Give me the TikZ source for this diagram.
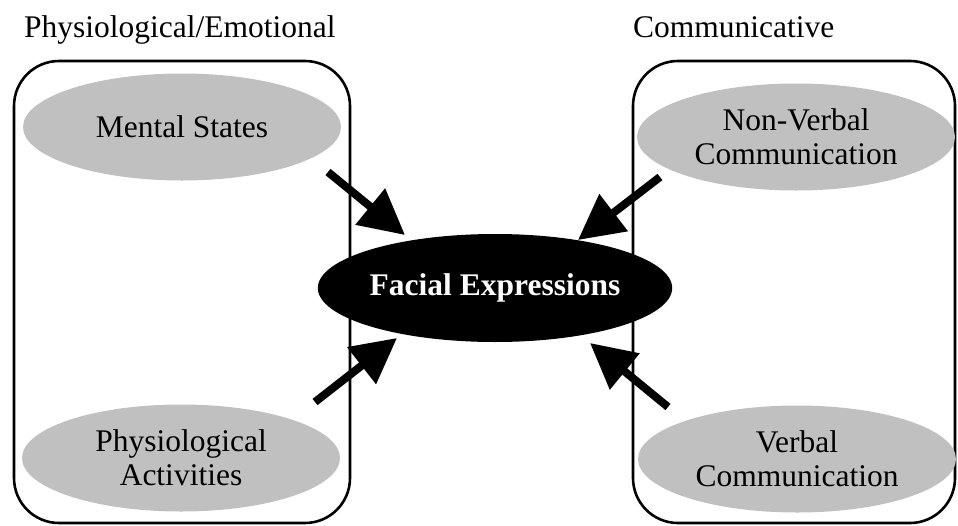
\documentclass[tikz,border=0pt]{standalone}
\usepackage{fontspec}
\setmainfont{Liberation Serif}
\usetikzlibrary{arrows.meta,shapes.geometric}
\definecolor{ellgray}{RGB}{192,192,192}
\begin{document}
\begin{tikzpicture}[x=1pt,y=-1pt,
  every node/.style={font=\fontsize{31.5}{34}\selectfont},
  groupbox/.style={draw=black,line width=2.6pt,rounded corners=45pt},
  grayell/.style={ellipse,fill=ellgray,inner sep=0pt,minimum width=318pt,minimum height=107pt,align=center},
  mainell/.style={ellipse,fill=black,text=white,inner sep=0pt,minimum width=318pt,minimum height=108pt,font=\fontsize{31.5}{34}\selectfont\bfseries},
  bigarrow/.style={line width=8pt,-{Triangle[length=45pt,width=45pt]}},
  grouptitle/.style={anchor=base west,inner sep=0pt}]
\useasboundingbox (0,0) rectangle (958,525);
% group boxes
\draw[groupbox] (14,61) rectangle (350,523);
\draw[groupbox] (633,61) rectangle (955,523);
% titles
\node[grouptitle] (t1) at (24,37) {Physiological/Emotional};
\node[grouptitle] (t2) at (633,37) {Communicative};
% ellipses
\node[grayell] (ms) at (182,127) {Mental States};
\node[grayell] (pa) at (181,458) {Physiological\\Activities};
\node[grayell] (nv) at (796,137) {Non-Verbal\\Communication};
\node[grayell] (vc) at (797,459) {Verbal\\Communication};
\node[mainell] (fe) at (495,288) {Facial Expressions};
% arrow ends
\coordinate (msT) at (328,172);
\coordinate (feA) at (405,235);
\coordinate (nvT) at (660,177);
\coordinate (feB) at (578,240);
\coordinate (paT) at (315,402);
\coordinate (feC) at (397,338);
\coordinate (vcT) at (668,407);
\coordinate (feD) at (590,343);
\draw[bigarrow] (msT) -- (feA);
\draw[bigarrow] (nvT) -- (feB);
\draw[bigarrow] (paT) -- (feC);
\draw[bigarrow] (vcT) -- (feD);
\end{tikzpicture}
\end{document}
